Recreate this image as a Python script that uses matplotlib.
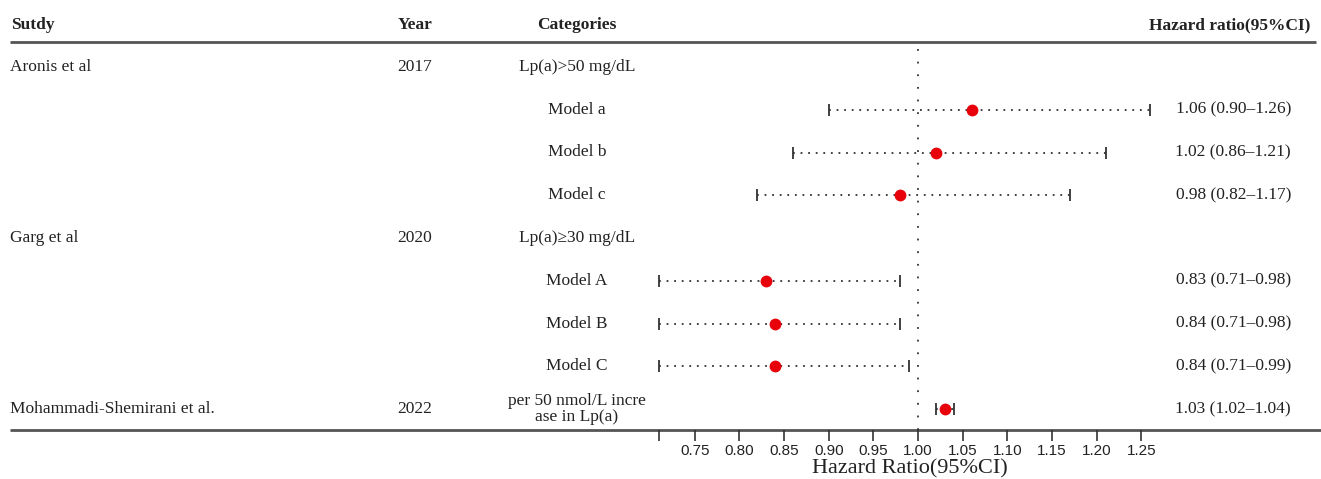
import numpy as np
import matplotlib
matplotlib.use("Agg")
import matplotlib.pyplot as plt

# table content
studies = ["Aronis et al", "", "", "", "Garg et al", "", "", "", "Mohammadi-Shemirani et al."]
years = ["2017", "", "", "", "2020", "", "", "", "2022"]
categories = ["Lp(a)>50 mg/dL", "Model a", "Model b", "Model c",
              "Lp(a)\u226530 mg/dL", "Model A", "Model B", "Model C",
              "per 50 nmol/L incre\nase in Lp(a)"]
hr = [np.nan, 1.06, 1.02, 0.98, np.nan, 0.83, 0.84, 0.84, 1.03]
lower = [np.nan, 0.90, 0.86, 0.82, np.nan, 0.71, 0.71, 0.71, 1.02]
upper = [np.nan, 1.26, 1.21, 1.17, np.nan, 0.98, 0.98, 0.99, 1.04]
hr_text = ["", "1.06 (0.90\u20131.26)", "1.02 (0.86\u20131.21)", "0.98 (0.82\u20131.17)",
           "", "0.83 (0.71\u20130.98)", "0.84 (0.71\u20130.98)", "0.84 (0.71\u20130.99)",
           "1.03 (1.02\u20131.04)"]
xticks = [0.71, 0.75, 0.80, 0.85, 0.90, 0.95, 1.00, 1.05, 1.10, 1.15, 1.20, 1.25]
xticklabels = [""] + ["%.2f" % t for t in xticks[1:]]

W, H = 1321, 479
fig = plt.figure(figsize=(W / 100, H / 100), dpi=100)
serif = "Liberation Serif"
txtcol = "#222222"
fs = 12.5

# background axes in pixel coordinates for the table
tab = fig.add_axes([0, 0, 1, 1])
tab.set_xlim(0, W)
tab.set_ylim(H, 0)
tab.axis("off")

row0, step = 67, 42.75
hdr_y = 25
tab.text(11, hdr_y, "Sutdy", fontfamily=serif, fontweight="bold", fontsize=fs, va="center", color=txtcol)
tab.text(415, hdr_y, "Year", fontfamily=serif, fontweight="bold", fontsize=fs, va="center", ha="center", color=txtcol)
tab.text(577, hdr_y, "Categories", fontfamily=serif, fontweight="bold", fontsize=fs, va="center", ha="center", color=txtcol)
tab.text(1310, hdr_y, "Hazard ratio(95%CI)", fontfamily=serif, fontweight="bold", fontsize=fs, va="center", ha="right", color=txtcol)
tab.plot([10, 1316], [42, 42], color="#555555", lw=2.0, solid_capstyle="butt")
tab.plot([10, 1321], [430, 430], color="#555555", lw=2.0, solid_capstyle="butt")

for i in range(len(studies)):
    y = row0 + i * step
    if i == len(studies) - 1:
        y = 409
    tab.text(10, y, studies[i], fontfamily=serif, fontsize=fs, va="center", color=txtcol)
    tab.text(415, y, years[i], fontfamily=serif, fontsize=fs, va="center", ha="center", color=txtcol)
    tab.text(577, y, categories[i], fontfamily=serif, fontsize=fs, va="center", ha="center",
             color=txtcol, linespacing=0.95)
    tab.text(1291, y, hr_text[i], fontfamily=serif, fontsize=fs, va="center", ha="right", color=txtcol)

# forest axes: x in hazard ratio units (1.00 at 918 px, 893 px per unit)
left_px, right_px = 649, 1171
top_px, bot_px = 42, 430
ax = fig.add_axes([left_px / W, 1 - bot_px / H, (right_px - left_px) / W, (bot_px - top_px) / H])
ax.patch.set_alpha(0)
x0 = 1.0 - (918 - left_px) / 893
x1 = 1.0 + (right_px - 918) / 893
ax.set_xlim(x0, x1)
ax.set_ylim((bot_px - row0) / step, (top_px - row0) / step)
for s in ax.spines.values():
    s.set_visible(False)
ax.set_yticks([])
ax.set_xticks(xticks)
ax.set_xticklabels(xticklabels, fontfamily="Liberation Sans", fontsize=11, color=txtcol)
ax.tick_params(axis="x", length=8, width=1.2, color="#333333", pad=2)
ax.set_xlabel("Hazard Ratio(95%CI)", fontfamily=serif, fontsize=16, color=txtcol, labelpad=1)

ax.axvline(1.0, color="#333333", lw=1.3, linestyle=(0, (1, 6)))

rows = np.arange(len(hr), dtype=float)
rows[-1] = (409 - row0) / step
for r, m, lo, hi in zip(rows, hr, lower, upper):
    if np.isnan(m):
        continue
    ax.plot([lo, hi], [r, r], color="#333333", lw=1.3, linestyle=(0, (1, 3.2)))
    ax.plot([lo, hi], [r, r], linestyle="none", marker="|", markersize=9,
            markeredgewidth=1.3, color="#333333")
    ax.plot(m, r, "o", color="#e8000b", markersize=8.5, markeredgewidth=0, zorder=5)

fig.savefig("out.png", dpi=100)
